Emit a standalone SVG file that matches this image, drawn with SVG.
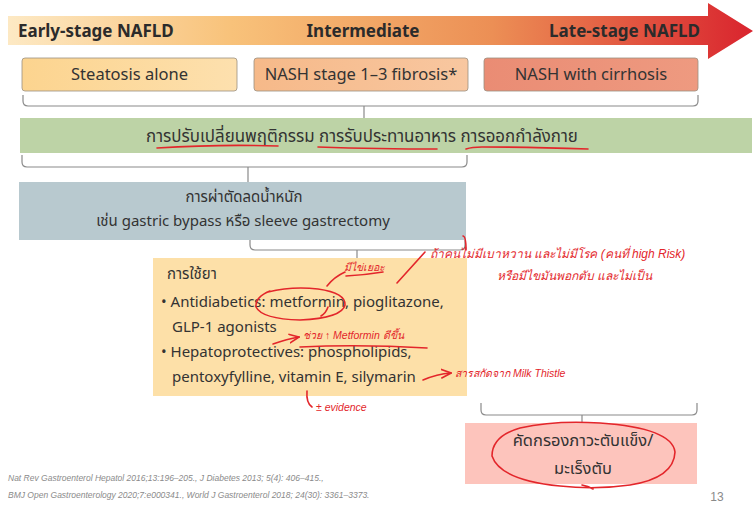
<svg xmlns="http://www.w3.org/2000/svg" width="756" height="514" viewBox="0 0 756 514">
<defs>
<linearGradient id="band" x1="0" y1="0" x2="1" y2="0">
<stop offset="0" stop-color="#fde9c4"/>
<stop offset="0.3" stop-color="#f8c27a"/>
<stop offset="0.65" stop-color="#ec8f55"/>
<stop offset="1" stop-color="#d9242e"/>
</linearGradient>
<linearGradient id="g1" x1="0" y1="0" x2="1" y2="0"><stop offset="0" stop-color="#fcd48f"/><stop offset="1" stop-color="#fde0ae"/></linearGradient>
<linearGradient id="g2" x1="0" y1="0" x2="1" y2="0"><stop offset="0" stop-color="#f6b989"/><stop offset="1" stop-color="#f8c7a0"/></linearGradient>
<linearGradient id="g3" x1="0" y1="0" x2="1" y2="0"><stop offset="0" stop-color="#ea8c74"/><stop offset="1" stop-color="#ee9a80"/></linearGradient>
<marker id="ah" viewBox="0 0 10 10" refX="9" refY="5" markerWidth="7" markerHeight="7" orient="auto"><path d="M0,1 L9,5 L0,9" fill="none" stroke="#e3262b" stroke-width="1.5"/></marker>
</defs>
<style>
.hdr{font-family:"Noto Sans","Liberation Sans",sans-serif;font-weight:bold;font-size:17px;fill:#2b2b2b}
.stage{font-family:"Noto Sans","Liberation Sans",sans-serif;font-size:16.5px;fill:#333}
.th{font-family:"Noto Sans","Noto Sans Thai","Leelawadee UI",sans-serif;font-size:15px;fill:#333}
.th-lg{font-size:16.9px}
.th-md{font-size:16.5px}
.brk{fill:none;stroke:#8a8a8a;stroke-width:1.2}
.ref{font-family:"Liberation Sans",sans-serif;font-style:italic;font-size:8.5px;fill:#8a8a8a}
.ink{fill:none;stroke:#e3262b;stroke-width:1.6;stroke-linecap:round;stroke-linejoin:round}
.hw{font-family:"Liberation Sans",sans-serif;font-style:italic;font-size:12px;fill:#e3262b}
.hw-sm{font-size:10.5px}
.box{stroke:#9a8f80;stroke-width:0.8}
</style>
<rect width="756" height="514" fill="#ffffff"/>
<g id="progression-arrow">
<path d="M8,16 H708 V3 L753,31 L708,59 V45 H8 Z" fill="url(#band)"/>
<text class="hdr" x="18" y="37">Early-stage NAFLD</text>
<text class="hdr" x="363" y="37" text-anchor="middle">Intermediate</text>
<text class="hdr" x="700" y="37" text-anchor="end">Late-stage NAFLD</text>
</g>
<g id="stage-steatosis">
<rect class="box" x="22" y="58" width="215" height="33" rx="3" fill="url(#g1)"/>
<text class="stage" x="129.5" y="80" text-anchor="middle">Steatosis alone</text>
</g>
<g id="stage-nash">
<rect class="box" x="254" y="58" width="214" height="33" rx="3" fill="url(#g2)"/>
<text class="stage" x="361" y="80" text-anchor="middle">NASH stage 1–3 fibrosis*</text>
</g>
<g id="stage-cirrhosis">
<rect class="box" x="484" y="58" width="214" height="33" rx="3" fill="url(#g3)"/>
<text class="stage" x="591" y="80" text-anchor="middle">NASH with cirrhosis</text>
</g>
<g id="connectors">
<path class="brk" d="M23,95 V101 Q23,106 28,106 H693 Q698,106 698,101 V95 M364,106 V118"/>
<path class="brk" d="M22,155 V162 Q22,167 27,167 H462 Q467,167 467,162 V155 M248,167 V182"/>
<path class="brk" d="M250,240 V245 Q250,250 255,250 H460 Q465,250 465,245 V240 M357,250 V258"/>
<path class="brk" d="M481,403 V410 Q481,415 486,415 H692 Q697,415 697,410 V403 M582,415 V423"/>
</g>
<g id="lifestyle">
<rect x="20" y="118" width="732" height="35" fill="#bdd3a6"/>
<text class="th th-lg" x="362" y="142" text-anchor="middle">การปรับเปลี่ยนพฤติกรรม การรับประทานอาหาร การออกกำลังกาย</text>
</g>
<g id="surgery">
<rect x="19" y="182" width="447" height="58" fill="#b8c9cf"/>
<text class="th" x="244" y="202" text-anchor="middle">การผ่าตัดลดน้ำหนัก</text>
<text class="th" x="243" y="226" text-anchor="middle">เช่น gastric bypass หรือ sleeve gastrectomy</text>
</g>
<g id="medication">
<rect x="153" y="258" width="314" height="138" fill="#fde0a8"/>
<text class="th" x="167" y="279">การใช้ยา</text>
<text class="th" x="161" y="307">• Antidiabetics: metformin, pioglitazone,</text>
<text class="th" x="172" y="332">GLP-1 agonists</text>
<text class="th" x="161" y="357">• Hepatoprotectives: phospholipids,</text>
<text class="th" x="172" y="382">pentoxyfylline, vitamin E, silymarin</text>
</g>
<g id="screening">
<rect x="465" y="423" width="232" height="61" fill="#fdc4bc"/>
<text class="th th-md" x="583" y="446" text-anchor="middle">คัดกรองภาวะตับแข็ง/</text>
<text class="th th-md" x="583" y="474" text-anchor="middle">มะเร็งตับ</text>
</g>
<g id="references">
<text class="ref" x="8" y="481">Nat Rev Gastroenterol Hepatol 2016;13:196–205., J Diabetes 2013; 5(4): 406–415.,</text>
<text class="ref" x="8" y="498">BMJ Open Gastroenterology 2020;7:e000341., World J Gastroenterol 2018; 24(30): 3361–3373.</text>
<text x="717" y="501" font-family="Liberation Sans,sans-serif" font-size="12" fill="#8a8a8a" text-anchor="middle">13</text>
</g>
<g id="annotations">
<path class="ink" d="M157,148 Q220,144 278,146"/>
<path class="ink" d="M318,147 Q380,149 437,149"/>
<path class="ink" d="M466,149 Q472,147 482,147 Q530,147 588,149"/>
<path class="ink" d="M268,292 Q292,286 318,289 Q346,293 345,305 Q342,318 300,320 Q262,319 256,307 Q255,297 270,291"/>
<path class="ink" d="M327,286 Q334,277 345,272"/>
<path class="ink" d="M346,276 Q365,275 383,272"/>
<path class="ink" d="M397,283 L425,252"/>
<path class="ink" d="M463,236 Q466,236 466,250"/>
<path class="ink" d="M328,307 Q326,313 321,316"/>
<path class="ink" d="M273,344 Q287,339 299,337" marker-end="url(#ah)"/>
<path class="ink" d="M300,347 Q360,344 427,348"/>
<path class="ink" d="M423,380 Q437,374 451,373" marker-end="url(#ah)"/>
<path class="ink" d="M307,391 Q306,403 312,407"/>
<path class="ink" d="M520,428 Q555,420 600,423 Q672,428 675,452 Q674,478 630,485 Q595,490 560,486 Q500,480 492,456 Q492,436 520,428 M582,485 Q588,486 593,489"/>
<text class="hw hw-sm" x="344" y="271">มีไข่เยอะ</text>
<text class="hw" x="430" y="258">ถ้าคนไม่มีเบาหวาน และไม่มีโรค (คนที่ high Risk)</text>
<text class="hw" x="497" y="280">หรือมีไขมันพอกตับ และไม่เป็น</text>
<text class="hw hw-sm" x="303" y="339">ช่วย ↑ Metformin ดีขึ้น</text>
<text class="hw hw-sm" x="316" y="411">± evidence</text>
<text class="hw hw-sm" x="455" y="377">สารสกัดจาก Milk Thistle</text>
</g>
</svg>
